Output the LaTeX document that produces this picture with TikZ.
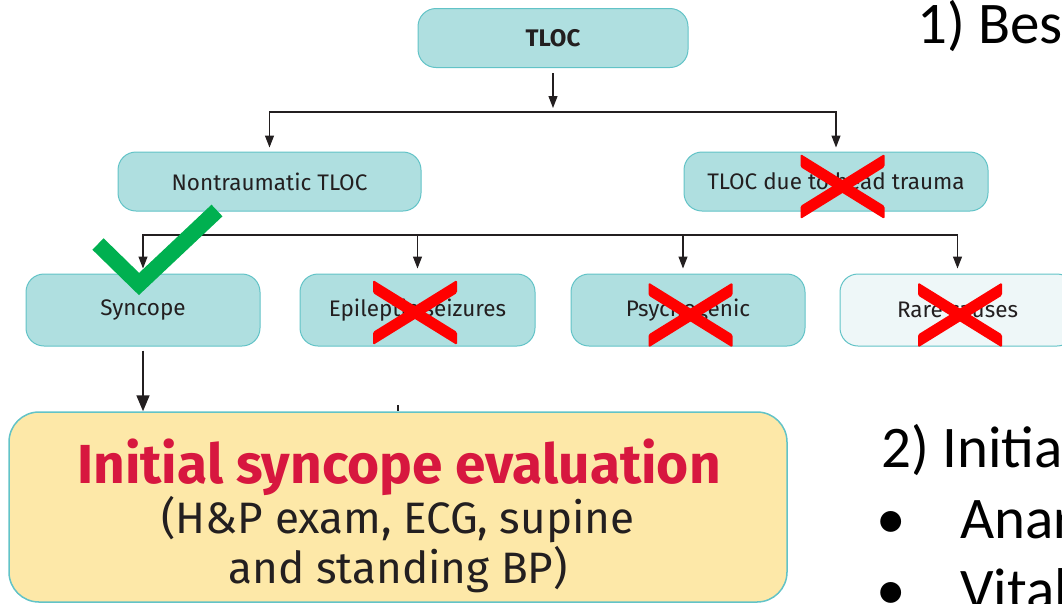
\documentclass[tikz,border=0pt]{standalone}
\usepackage{fontspec}
\setmainfont{Fira Sans}
\newfontfamily\slidefont{Carlito}
\usetikzlibrary{arrows.meta}

\definecolor{boxfill}{HTML}{AFDFE0}
\definecolor{boxline}{HTML}{62C3C7}
\definecolor{palefill}{HTML}{EEF7F8}
\definecolor{evalfill}{HTML}{FDE8A8}
\definecolor{inkdark}{HTML}{231F20}
\definecolor{evalred}{HTML}{D7173F}
\definecolor{crossred}{HTML}{FF0000}
\definecolor{tickgreen}{HTML}{00B050}

\tikzset{
  box/.style={draw=boxline, fill=boxfill, line width=1pt, rounded corners=18pt,
    text=inkdark, font=\fontsize{22.5}{27}\selectfont, inner sep=0pt},
  tierbox/.style={box, minimum height=59pt},
  leafbox/.style={box, minimum height=72pt, minimum width=235pt},
  evalbox/.style={draw=boxline, fill=evalfill, line width=1.5pt, rounded corners=30pt,
    inner sep=0pt, minimum width=778pt, minimum height=190pt},
  link/.style={draw=inkdark, line width=1.2pt},
  arr/.style={link, -{Triangle[length=12pt,width=9pt]}},
  bigarr/.style={draw=inkdark, line width=1.7pt, -{Triangle[length=16pt,width=13pt]}},
  slide/.style={inner sep=0pt, anchor=base west, text=black,
    font=\slidefont\fontsize{59}{70}\selectfont},
  nocross/.pic={
    \fill[crossred, rounded corners=1.5pt] (-42,-32.5) -- (42,19.5) -- (42,32.5) -- (-42,-19.5) -- cycle;
    \fill[crossred, rounded corners=1.5pt] (-42,32.5) -- (42,-19.5) -- (42,-32.5) -- (-42,19.5) -- cycle;
  },
}

\begin{document}
\begin{tikzpicture}[x=1pt,y=-1pt]
\useasboundingbox (0,0) rectangle (1062,603);

% classification tree
\node[tierbox, minimum width=270pt, font=\fontsize{24}{28}\selectfont\bfseries] (tloc) at (553,38) {TLOC};
\node[tierbox, minimum width=303pt] (nt) at (269.5,181.5) {Nontraumatic TLOC};
\node[tierbox, minimum width=304pt] (ht) at (836,181.5) {TLOC due to head trauma};

\node[leafbox, minimum width=234pt] (syn) at (143,310) {Syncope};
\node[leafbox] (epi) at (417.5,310) {Epileptic seizures};
\node[leafbox, minimum width=234pt] (psy) at (688,310) {Psychogenic};
\node[leafbox, fill=palefill] (rare) at (957.5,310) {Rare causes};

% first split
\coordinate (split1) at (553,112);
\draw[arr, shorten <=5pt, shorten >=4pt] (tloc.south) -- (split1);
\draw[arr, shorten >=4pt] (split1) -| (nt.north);
\draw[arr, shorten >=4pt] (split1) -| (ht.north);

% second split
\coordinate (split2) at (550,235);
\draw[arr, shorten >=5pt] (split2) -| (syn.north);
\draw[arr, shorten >=5pt] (split2) -| (epi.north);
\draw[arr, shorten >=5pt] (split2) -| ([xshift=-5pt]psy.north);
\draw[arr, shorten >=5pt] (split2) -| (rare.north);

% evaluation box
\node[evalbox] (eval) at (398,507) {};
\node[inner sep=0pt, anchor=base, text=evalred, font=\fontsize{55}{62}\selectfont\bfseries] (evaltitle) at (399,483) {Initial syncope evaluation};
\node[inner sep=0pt, anchor=base, text=inkdark, font=\fontsize{44}{50}\selectfont] (evalline1) at (398,533) {(H\&P exam, ECG, supine};
\node[inner sep=0pt, anchor=base, text=inkdark, font=\fontsize{44}{50}\selectfont] (evalline2) at (398,583) {and standing BP)};

\draw[bigarr, shorten <=4pt] (syn.south) -- (syn.south |- eval.north);
\coordinate (stubtop) at (398,405);
\draw[draw=inkdark, line width=1.4pt] (stubtop) -- (eval.north);

% marks
\draw[tickgreen, line width=16pt, miter limit=4] (98,244) -- (139,284) -- (217,210.5);
\pic at (842.5,186.5) {nocross};
\pic at (415,312.5) {nocross};
\pic at (690.5,315) {nocross};
\pic at (960,315) {nocross};

% slide text
\node[slide] (best) at (917,43) {1) Bes};
\node[slide] (initial) at (881,467) {2) Initia};
\node[slide, anchor=base] (bull1) at (891,538) {•};
\node[slide] (anam) at (960,538) {Anar};
\node[slide, anchor=base] (bull2) at (891,609) {•};
\node[slide] (vital) at (960,609) {Vital};
\end{tikzpicture}
\end{document}
